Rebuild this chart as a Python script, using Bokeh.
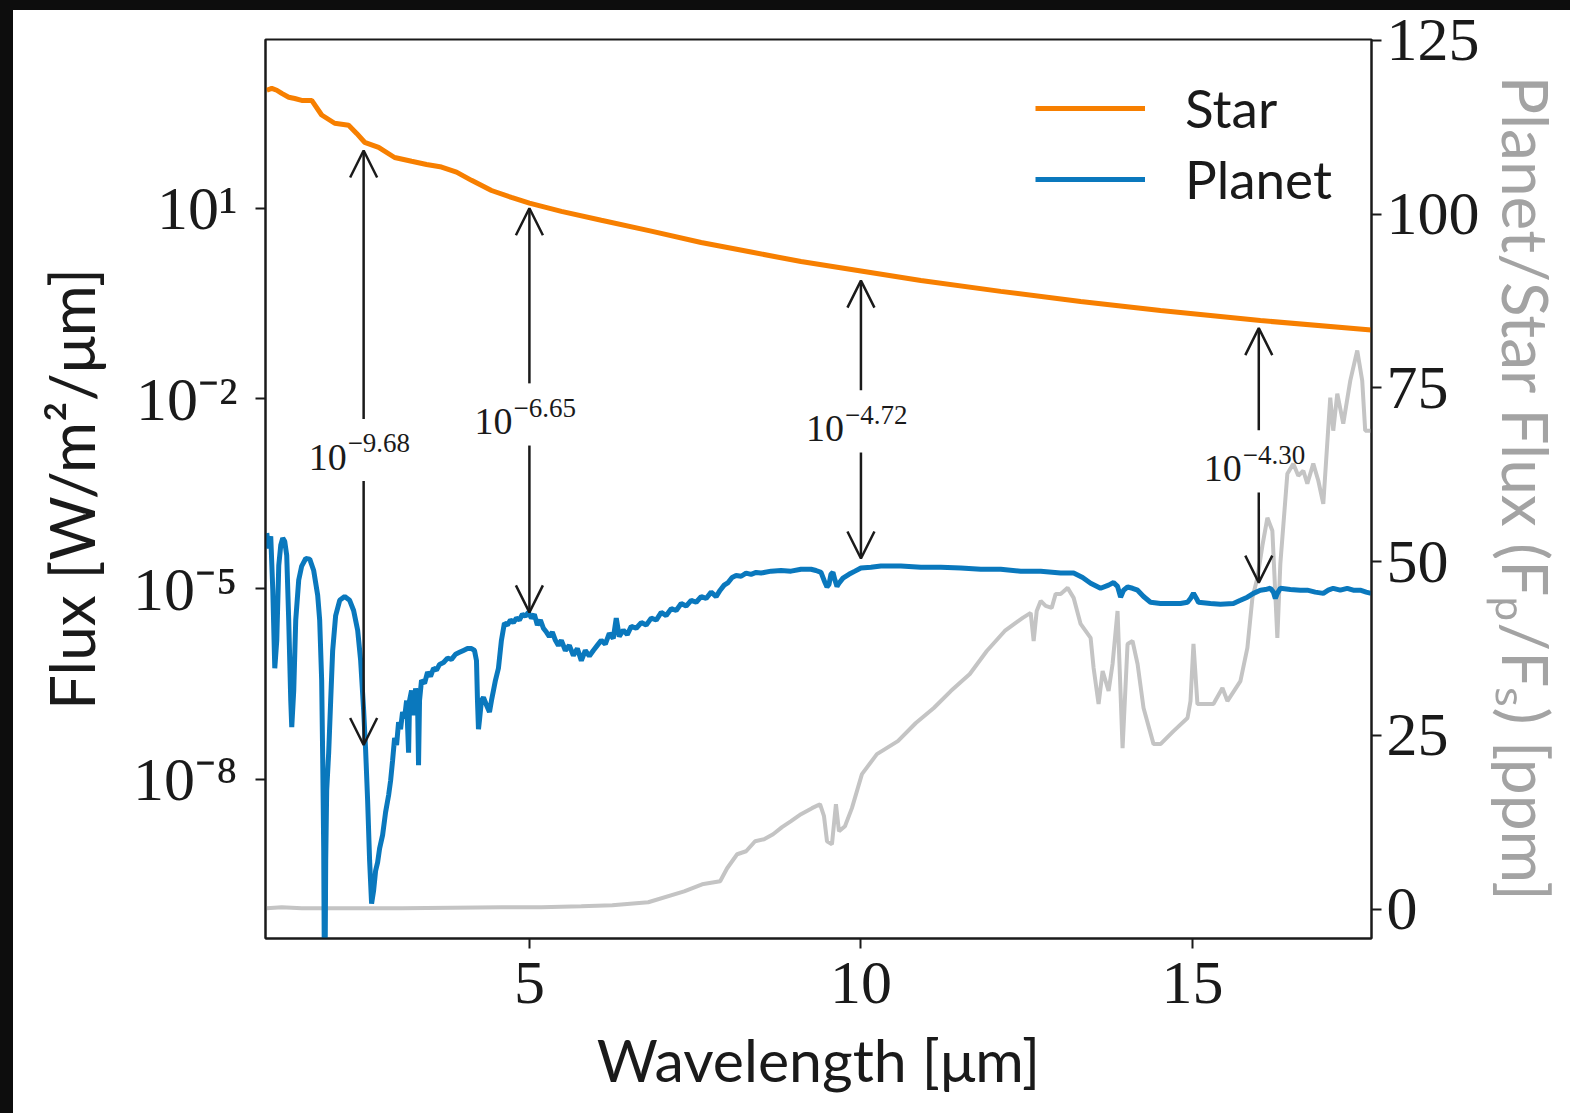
from bokeh.plotting import figure
from bokeh.models import (Range1d, LinearAxis, LinearScale, FixedTicker, CustomJSTickFormatter, Legend,
                          LegendItem, Arrow, OpenHead, ColumnDataSource, Spacer)
from bokeh.layouts import column, row
from bokeh.core.properties import value
from bokeh.embed import file_html
from bokeh.resources import INLINE

# ---------------- data ----------------
star_wavelength = [1.039, 1.114, 1.190, 1.265, 1.370, 1.461, 1.566, 1.717, 1.867, 2.063, 2.274, 2.395,
                   2.515, 2.726, 2.967, 3.223, 3.449, 3.675, 3.901, 4.127, 4.428, 4.729, 5.0, 5.482,
                   6.084, 6.837, 7.590, 8.343, 9.096, 10.0, 10.904, 12.108, 13.313, 14.518, 16.024, 17.696]
star_log10_flux = [2.86, 2.89, 2.86, 2.81, 2.75, 2.73, 2.70, 2.70, 2.47, 2.34, 2.31, 2.18,
                   2.04, 1.96, 1.80, 1.74, 1.69, 1.65, 1.57, 1.44, 1.28, 1.17, 1.08, 0.95,
                   0.81, 0.64, 0.46, 0.31, 0.16, 0.01, -0.14, -0.31, -0.47, -0.61, -0.77, -0.92]

planet_wavelength = [
    1.039, 1.069, 1.099, 1.130, 1.160, 1.190, 1.220, 1.250, 1.280, 1.310, 1.340, 1.370, 1.401, 1.416,
    1.446, 1.476, 1.521, 1.566, 1.627, 1.687, 1.747, 1.807, 1.837, 1.867, 1.883, 1.898, 1.907, 1.919,
    1.928, 1.943, 1.973, 2.003, 2.033, 2.078, 2.139, 2.214, 2.289, 2.349, 2.410, 2.455, 2.500, 2.530,
    2.560, 2.590, 2.620, 2.651, 2.681, 2.711, 2.741, 2.786, 2.831, 2.877, 2.907, 2.937, 2.967, 2.997,
    3.027, 3.057, 3.087, 3.117, 3.148, 3.178, 3.193, 3.223, 3.253, 3.283, 3.313, 3.328, 3.343, 3.373,
    3.419, 3.464, 3.509, 3.554, 3.599, 3.645, 3.705, 3.765, 3.825, 3.886, 3.946, 4.006, 4.066, 4.127,
    4.172, 4.202, 4.217, 4.232, 4.247, 4.277, 4.307, 4.352, 4.398, 4.428, 4.458, 4.488, 4.533, 4.578,
    4.623, 4.669, 4.714, 4.759, 4.804, 4.849, 4.895, 4.940, 4.985, 5.030, 5.075, 5.120, 5.166, 5.211,
    5.256, 5.301, 5.346, 5.392, 5.437, 5.482, 5.542, 5.602, 5.663, 5.723, 5.783, 5.843, 5.904, 5.964,
    6.024, 6.084, 6.145, 6.205, 6.265, 6.310, 6.355, 6.416, 6.476, 6.536, 6.611, 6.687, 6.762, 6.837,
    6.913, 6.988, 7.063, 7.139, 7.214, 7.289, 7.364, 7.440, 7.515, 7.590, 7.666, 7.741, 7.816, 7.877,
    7.937, 7.997, 8.057, 8.117, 8.193, 8.268, 8.343, 8.419, 8.494, 8.645, 8.795, 8.946, 9.096, 9.247,
    9.322, 9.398, 9.458, 9.488, 9.518, 9.548, 9.578, 9.608, 9.639, 9.669, 9.729, 9.819, 9.910, 10.000,
    10.151, 10.301, 10.602, 10.904, 11.205, 11.506, 11.807, 12.108, 12.410, 12.711, 13.012, 13.208,
    13.343, 13.464, 13.614, 13.735, 13.810, 13.870, 13.916, 13.961, 14.021, 14.096, 14.172, 14.262,
    14.367, 14.518, 14.669, 14.819, 14.925, 14.970, 15.015, 15.060, 15.090, 15.271, 15.422, 15.617,
    15.723, 15.828, 15.919, 16.024, 16.099, 16.175, 16.220, 16.250, 16.280, 16.325, 16.476, 16.627,
    16.732, 16.852, 16.973, 17.048, 17.123, 17.229, 17.334, 17.425, 17.530, 17.620, 17.696]
planet_log10_flux = [
    -4.12, -4.36, -4.17, -5.02, -6.25, -5.81, -4.63, -4.31, -4.20, -4.25, -4.47, -5.49, -6.76, -7.18,
    -6.60, -5.49, -4.86, -4.64, -4.52, -4.53, -4.71, -5.10, -5.49, -6.44, -7.70, -9.12, -10.9, -10.9,
    -9.28, -8.17, -7.58, -6.76, -5.97, -5.42, -5.18, -5.12, -5.18, -5.34, -5.65, -6.13, -6.91, -7.54,
    -8.33, -9.28, -9.96, -9.75, -9.44, -9.31, -9.09, -8.88, -8.52, -8.25, -8.02, -7.70, -7.35, -7.46,
    -7.10, -7.21, -6.94, -7.04, -6.76, -7.58, -6.76, -6.60, -6.99, -6.57, -6.76, -7.78, -6.76, -6.44,
    -6.49, -6.31, -6.38, -6.25, -6.28, -6.19, -6.16, -6.09, -6.11, -6.03, -6.00, -5.97, -5.94, -5.94,
    -5.97, -6.13, -6.76, -7.21, -7.07, -6.76, -6.71, -6.83, -6.94, -6.76, -6.60, -6.44, -6.25, -5.81,
    -5.54, -5.57, -5.49, -5.53, -5.46, -5.49, -5.40, -5.43, -5.37, -5.46, -5.40, -5.57, -5.49, -5.62,
    -5.68, -5.75, -5.68, -5.81, -5.89, -5.81, -5.97, -5.89, -6.05, -5.94, -6.13, -5.97, -6.06, -5.97,
    -5.89, -5.81, -5.87, -5.70, -5.78, -5.46, -5.75, -5.65, -5.72, -5.59, -5.62, -5.53, -5.57, -5.46,
    -5.49, -5.37, -5.42, -5.31, -5.34, -5.23, -5.27, -5.18, -5.21, -5.12, -5.15, -5.05, -5.12, -5.02,
    -4.94, -4.90, -4.82, -4.79, -4.80, -4.75, -4.77, -4.74, -4.75, -4.72, -4.71, -4.72, -4.69, -4.69,
    -4.71, -4.74, -4.90, -4.97, -4.93, -4.77, -4.74, -4.86, -4.96, -4.91, -4.83, -4.77, -4.72, -4.67,
    -4.66, -4.64, -4.64, -4.66, -4.66, -4.67, -4.69, -4.69, -4.72, -4.72, -4.75, -4.75,
    -4.82, -4.91, -4.99, -4.94, -4.90, -4.96, -5.13, -5.02, -4.97, -4.99, -5.02, -5.12,
    -5.21, -5.23, -5.23, -5.23, -5.21, -5.15, -5.07, -5.15, -5.21, -5.23, -5.24, -5.23,
    -5.18, -5.13, -5.07, -5.02, -5.01, -4.99, -5.05, -5.15, -5.07, -4.99, -5.01, -5.02,
    -5.02, -5.05, -5.07, -5.02, -4.99, -5.02, -4.99, -5.02, -5.02, -5.05, -5.07]

ratio_wavelength = [
    1.039, 1.265, 1.566, 3.072, 4.578, 5.181, 5.783, 6.250, 6.792, 7.334, 7.605, 7.877, 7.982, 8.133,
    8.268, 8.404, 8.539, 8.675, 8.810, 8.946, 9.096, 9.262, 9.383, 9.443, 9.488, 9.563, 9.623, 9.669,
    9.759, 9.864, 10.015, 10.241, 10.557, 10.828, 11.099, 11.355, 11.642, 11.898, 12.169, 12.334,
    12.440, 12.560, 12.605, 12.651, 12.711, 12.786, 12.877, 12.937, 13.012, 13.117, 13.208, 13.313,
    13.464, 13.509, 13.584, 13.645, 13.735, 13.795, 13.870, 13.946, 14.021, 14.096, 14.172, 14.262,
    14.413, 14.518, 14.714, 14.925, 14.970, 15.015, 15.075, 15.316, 15.452, 15.527, 15.723, 15.828,
    15.904, 15.979, 16.054, 16.130, 16.205, 16.280, 16.325, 16.431, 16.521, 16.596, 16.672, 16.732,
    16.822, 16.898, 16.973, 17.078, 17.123, 17.184, 17.274, 17.380, 17.485, 17.560, 17.605, 17.696]
ratio_ppm = [
    0.14, 0.29, 0.14, 0.14, 0.29, 0.29, 0.43, 0.58, 1.01, 2.59, 3.60, 4.03, 5.90, 7.92,
    8.35, 9.79, 10.08, 10.80, 11.81, 12.67, 13.68, 14.55, 15.12, 13.39, 9.79, 9.36, 15.12, 11.23,
    11.95, 14.55, 19.44, 22.32, 24.19, 26.79, 28.95, 31.39, 33.84, 37.15, 40.03, 41.19,
    41.91, 42.63, 38.59, 42.91, 44.35, 43.63, 43.35, 45.36, 45.36, 46.23, 44.79, 41.04,
    39.03, 34.71, 29.52, 34.27, 31.39, 35.28, 42.91, 23.19, 38.16, 38.59, 35.28, 28.95,
    23.76, 23.76, 25.63, 27.51, 29.95, 38.16, 29.52, 29.52, 31.83, 29.95, 32.83, 37.59,
    44.79, 47.67, 52.27, 56.31, 54.44, 39.03, 49.68, 62.64, 64.09, 62.36, 63.08, 61.20,
    64.09, 61.64, 58.32, 73.59, 68.84, 74.17, 69.85, 76.04, 80.36, 76.04, 68.84, 68.84]

arrow_wavelength = [2.5, 5.0, 10.0, 16.0]
arrow_star_log10 = [1.91, 1.00, -0.14, -0.89]
arrow_planet_log10 = [-7.46, -5.37, -4.52, -4.90]
arrow_label_log10 = [-2.67, -2.11, -2.22, -2.85]
arrow_label_base = ["10", "10", "10", "10"]
arrow_label_exponent = ["\u22129.68", "\u22126.65", "\u22124.72", "\u22124.30"]

x_ticks = [5, 10, 15]
flux_ticks = [1e1, 1e-2, 1e-5, 1e-8]
ratio_ticks = [0, 25, 50, 75, 100, 125]

# ---------------- styling ----------------
STAR = "#f77f00"
PLANET = "#0a78bd"
RATIO = "#c4c4c4"
INK = "#1a1a1a"
SERIF = "Liberation Serif"
SANS = "Lato"

p = figure(width=1557, height=1113, x_range=Range1d(1.02, 17.70),
           y_range=Range1d(10 ** -10.51, 10 ** 3.66), y_axis_type="log",
           output_backend="svg", toolbar_location=None,
           min_border_left=252, min_border_right=199, min_border_top=39, min_border_bottom=175,
           background_fill_color="white", border_fill_color=None)
p.outline_line_color = INK
p.outline_line_width = 2
p.xgrid.visible = False
p.ygrid.visible = False

p.extra_y_ranges = {"ratio": Range1d(-4.2, 125.1)}
p.extra_y_scales = {"ratio": LinearScale()}

ratio_src = ColumnDataSource(dict(x=ratio_wavelength, y=ratio_ppm))
p.line("x", "y", source=ratio_src, y_range_name="ratio", line_color=RATIO, line_width=4)

star_src = ColumnDataSource(dict(x=star_wavelength, y=[10 ** v for v in star_log10_flux]))
planet_src = ColumnDataSource(dict(x=planet_wavelength, y=[10 ** v for v in planet_log10_flux]))
r_star = p.line("x", "y", source=star_src, line_color=STAR, line_width=5)
r_planet = p.line("x", "y", source=planet_src, line_color=PLANET, line_width=5)

# arrows
up_src = ColumnDataSource(dict(
    x=arrow_wavelength,
    y0=[10 ** (v + 0.35) for v in arrow_label_log10],
    y1=[10 ** v for v in arrow_star_log10]))
down_src = ColumnDataSource(dict(
    x=arrow_wavelength,
    y0=[10 ** (v - 0.63) for v in arrow_label_log10],
    y1=[10 ** v for v in arrow_planet_log10]))
for src in (up_src, down_src):
    p.add_layout(Arrow(source=src, x_start="x", y_start="y0", x_end="x", y_end="y1",
                       line_color=INK, line_width=2.5,
                       end=OpenHead(size=27, line_color=INK, line_width=2.5)))

lab_src = ColumnDataSource(dict(x=arrow_wavelength, y=[10 ** v for v in arrow_label_log10],
                                base=arrow_label_base, exp=arrow_label_exponent))
p.text("x", "y", text="base", source=lab_src, text_font=value(SERIF), text_font_size="38px",
       text_color=INK, text_align="right", text_baseline="alphabetic", x_offset=-17, y_offset=16)
p.text("x", "y", text="exp", source=lab_src, text_font=value(SERIF), text_font_size="27px",
       text_color=INK, text_align="left", text_baseline="alphabetic", x_offset=-16, y_offset=2)

# axes
def style_axis(ax, label_size="62px"):
    ax.axis_line_color = INK
    ax.axis_line_width = 2
    ax.major_tick_line_color = INK
    ax.major_tick_line_width = 2
    ax.major_tick_out = 10
    ax.major_tick_in = 0
    ax.minor_tick_line_color = None
    ax.major_label_text_font = SERIF
    ax.major_label_text_font_size = "62px"
    ax.major_label_text_color = INK
    ax.axis_label_text_font = SANS
    ax.axis_label_text_font_style = "normal"
    ax.axis_label_text_font_size = label_size
    ax.axis_label_text_color = INK

xa = p.xaxis[0]
style_axis(xa, "59px")
xa.ticker = FixedTicker(ticks=x_ticks, minor_ticks=[])
xa.axis_label = "Wavelength [\u03bcm]"
xa.major_label_standoff = 14
xa.axis_label_standoff = 18

ya = p.yaxis[0]
style_axis(ya, "62px")
ya.ticker = FixedTicker(ticks=flux_ticks, minor_ticks=[])
ya.formatter = CustomJSTickFormatter(code="""
const e = Math.round(Math.log10(tick));
const sup = {'-': '\u207b', '0': '\u2070', '1': '\u00b9', '2': '\u00b2', '3': '\u00b3', '4': '\u2074',
             '5': '\u2075', '6': '\u2076', '7': '\u2077', '8': '\u2078', '9': '\u2079'};
return '10' + String(e).split('').map(c => sup[c]).join('');
""")
ya.axis_label = "Flux [W/m\u00b2/\u03bcm]"
ya.major_label_standoff = 18
ya.axis_label_standoff = 22

ra = LinearAxis(y_range_name="ratio", ticker=FixedTicker(ticks=ratio_ticks, minor_ticks=[]))
style_axis(ra, "64px")
ra.axis_label = "Planet/Star Flux (F\u209a/F\u209b) [ppm]"
ra.axis_label_text_color = "#a3a3a3"
ra.major_label_standoff = 5
ra.axis_label_standoff = 5
p.add_layout(ra, "right")

legend = Legend(items=[LegendItem(label="Star", renderers=[r_star]),
                       LegendItem(label="Planet", renderers=[r_planet])],
                location=(765, 723), border_line_alpha=0, background_fill_alpha=0,
                label_text_font=SANS, label_text_font_size="53px", label_text_color=INK,
                glyph_width=110, glyph_height=50, label_standoff=40, spacing=8, padding=5,
                label_height=62)
p.add_layout(legend)

black = "#0d0d0d"
layout = column(Spacer(width=1570, height=10, styles={"background-color": black}),
                row(Spacer(width=13, height=1113, styles={"background-color": black}), p,
                    margin=(-10, 0, 0, 0)))

open("out.html", "w").write(file_html(layout, INLINE))
